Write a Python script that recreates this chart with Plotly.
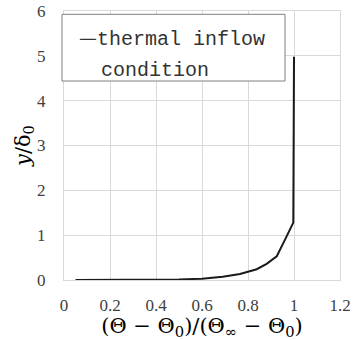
import plotly.graph_objects as go

theta_ratio = [0.05, 0.30, 0.40, 0.50, 0.60, 0.69, 0.765, 0.838, 0.881, 0.925, 0.961, 0.997, 1.0]
y_delta = [0.0, 0.002, 0.005, 0.012, 0.03, 0.075, 0.135, 0.24, 0.36, 0.53, 0.90, 1.28, 4.98]
series_name = "thermal inflow condition"
x_ticks = [0, 0.2, 0.4, 0.6, 0.8, 1.0, 1.2]
x_tick_labels = ["0", "0.2", "0.4", "0.6", "0.8", "1", "1.2"]
y_ticks = [0, 1, 2, 3, 4, 5, 6]

W, H = 364, 340
L, R, T, B = 64, 24, 11, 60
pw, ph = W - L - R, H - T - B

SERIF = "Liberation Serif"
MATH = "DejaVu Serif"
MONO = "Liberation Mono"

def px(xp):
    return (xp - L) / pw

def py(yp):
    return (H - B - yp) / ph

fig = go.Figure()
fig.add_trace(go.Scatter(x=theta_ratio, y=y_delta, mode="lines", name=series_name,
                         line=dict(color="#1a1a1a", width=2), showlegend=False))

grid = "#d9d9d9"
fig.update_layout(
    width=W, height=H, margin=dict(l=L, r=R, t=T, b=B),
    paper_bgcolor="white", plot_bgcolor="white",
    font=dict(family=SERIF, color="#333333"),
    xaxis=dict(range=[0, 1.2], tickvals=x_ticks, ticktext=x_tick_labels,
               showgrid=True, gridcolor=grid, gridwidth=1, zeroline=False,
               showline=True, linecolor=grid, mirror=True,
               tickfont=dict(size=17, family=SERIF, color="#404040"),
               ticklabelstandoff=10,
               title=dict(text="(Θ − Θ<sub>0</sub>)/(Θ<sub>∞</sub> − Θ<sub>0</sub>)",
                          font=dict(size=21, family=MATH, color="black"), standoff=6),
               automargin=False),
    yaxis=dict(range=[0, 6], tickvals=y_ticks,
               showgrid=True, gridcolor=grid, gridwidth=1, zeroline=False,
               showline=True, linecolor=grid, mirror=True,
               tickfont=dict(size=17, family=SERIF, color="#404040"),
               ticklabelstandoff=14,
               title=dict(text="<i>y</i>/δ<sub>0</sub>",
                          font=dict(size=21, family=MATH, color="black"), standoff=0),
               automargin=False),
)

# legend box
fig.add_shape(type="rect", xref="paper", yref="paper",
              x0=px(62), x1=px(285), y0=py(81), y1=py(14.3),
              line=dict(color="#808080", width=1), fillcolor="white", layer="above")
fig.add_annotation(xref="paper", yref="paper", x=px(77), y=py(37), xanchor="left", yanchor="middle",
                   text="<span style='font-family:Noto Sans CJK SC'>—</span>thermal inflow",
                   showarrow=False, font=dict(family=MONO, size=20, color="#333333"))
fig.add_annotation(xref="paper", yref="paper", x=px(99), y=py(70), xanchor="left", yanchor="middle",
                   text="condition",
                   showarrow=False, font=dict(family=MONO, size=20, color="#333333"))

fig.write_html("out.html")
